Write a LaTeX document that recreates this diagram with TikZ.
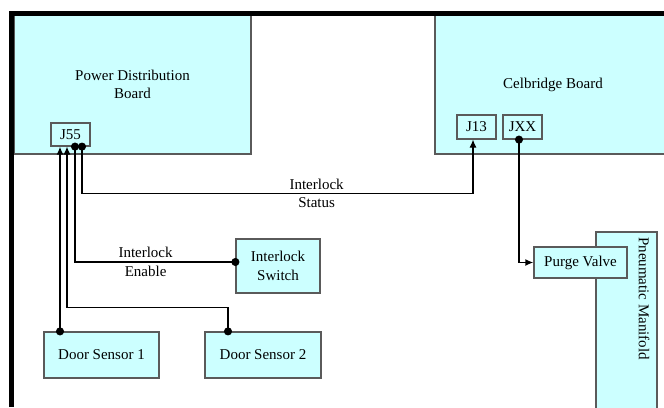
\documentclass[tikz,border=0pt]{standalone}
\usepackage{fontspec}
\setmainfont{Liberation Serif}
\usetikzlibrary{arrows.meta}
\definecolor{boardcyan}{HTML}{CCFFFF}
\definecolor{boardgray}{HTML}{5A5A5A}
\begin{document}
\begin{tikzpicture}[x=1pt,y=-1pt,
		font=\fontsize{15}{18.5}\selectfont,
		box/.style={draw=boardgray,fill=boardcyan,line width=1.2pt,inner sep=0pt,align=center},
		pin/.style={box,minimum width=39pt,minimum height=23pt},
		wire/.style={line width=1.6pt},
		thinwire/.style={line width=1.1pt},
		dotdot/.style={{Circle[length=8pt]}-{Circle[length=8pt]},shorten <=-4pt,shorten >=-4pt},
		dotarrow/.style={{Circle[length=8pt]}-{Latex[length=8pt,width=7pt]},shorten <=-4pt},
		lbl/.style={align=center,inner sep=0pt}]
	\useasboundingbox (0,0) rectangle (664,407);
	% Boards
	\node[box,minimum width=237pt,minimum height=139pt] (pdb) at (132.5,84.5) {Power Distribution\\Board};
	\node[box,minimum width=236pt,minimum height=139pt] (cel) at (553,84.5) {Celbridge Board};
	\node[box,minimum width=61pt,minimum height=180pt] (pm) at (626.5,322) {};
	\node[lbl,rotate=-90,anchor=west] (pmtext) at (644,237) {Pneumatic Manifold};
	% Rahmen
	\draw[line width=5pt] (11.5,407) -- (11.5,13.5) -- (664,13.5);
	% Stecker
	\node[pin] (j55) at (70.5,134.5) {J55};
	\node[pin,minimum height=24pt] (j13) at (476.5,127) {J13};
	\node[pin,minimum height=24pt] (jxx) at (522.5,127) {JXX};
	% Komponenten
	\node[box,minimum width=84pt,minimum height=54pt] (isw) at (278,266) {Interlock\\Switch};
	\node[box,minimum width=115pt,minimum height=46pt] (ds1) at (101.5,355) {Door Sensor 1};
	\node[box,minimum width=116pt,minimum height=46pt] (ds2) at (263,355) {Door Sensor 2};
	\node[box,minimum width=93pt,minimum height=31pt] (pv) at (580.5,262.5) {Purge Valve};
	% Pins an J55
	\coordinate (p1) at ([xshift=-10.5pt]j55.south);
	\coordinate (p2) at ([xshift=-3.5pt]j55.south);
	\coordinate (p3) at ([xshift=4.5pt]j55.south);
	\coordinate (p4) at ([xshift=11.5pt]j55.south);
	% Leitungen
	\draw[thinwire,dotarrow] (p4) -- ++(0,47) -| node[lbl,pos=0.3] {Interlock\\Status} ([xshift=-3.5pt]j13.south);
	\draw[wire,dotdot] (p3) |- node[lbl,pos=0.72] {Interlock\\Enable} ([yshift=4pt]isw.west);
	\draw[thinwire,dotarrow] ([xshift=-35pt]ds2.north) -- ++(0,-24) -| (p2);
	\draw[wire,dotarrow] (ds1.north -| p1) -- (p1);
	\draw[wire,dotarrow] ([xshift=-3.5pt]jxx.south) |- (pv.west);
\end{tikzpicture}
\end{document}
